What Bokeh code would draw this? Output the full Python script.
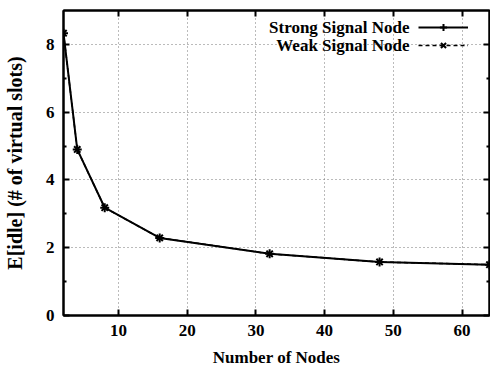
from bokeh.plotting import figure
from bokeh.models import (FixedTicker, LinearAxis, Legend, LegendItem, Label)
from bokeh.core.properties import value
from bokeh.embed import file_html
from bokeh.resources import INLINE

nodes = [2, 4, 8, 16, 32, 48, 64]
strong = [8.33, 4.9, 3.18, 2.29, 1.82, 1.58, 1.5]
weak = [8.33, 4.9, 3.18, 2.29, 1.82, 1.58, 1.5]
x_ticks = [10, 20, 30, 40, 50, 60]
y_ticks = [0, 2, 4, 6, 8]
y_minor = [1, 3, 5, 7]

FONT = "Liberation Serif"

p = figure(width=490, height=370, output_backend="svg", toolbar_location=None,
           x_range=(2, 64), y_range=(0, 9),
           min_border_left=63, min_border_right=1, min_border_top=10, min_border_bottom=55)
p.background_fill_color = "white"
p.border_fill_color = "white"
p.outline_line_color = "black"
p.outline_line_width = 2

# grid
for g in (p.xgrid, p.ygrid):
    g.grid_line_color = "#777777"
    g.grid_line_dash = "1 3"
    g.grid_line_width = 1
p.xgrid.ticker = FixedTicker(ticks=x_ticks)
p.ygrid.ticker = FixedTicker(ticks=y_ticks[1:])

def style_axis(ax):
    ax.axis_line_color = "black"
    ax.axis_line_width = 2
    ax.major_tick_in = 6
    ax.major_tick_out = 0
    ax.minor_tick_in = 3
    ax.minor_tick_out = 0
    ax.major_tick_line_width = 2
    ax.minor_tick_line_width = 2
    ax.major_label_text_font = FONT
    ax.major_label_text_font_style = "bold"
    ax.major_label_text_color = "black"
    ax.major_label_text_font_size = "17px"
    ax.axis_label_text_font = FONT
    ax.axis_label_text_font_style = "bold"
    ax.axis_label_text_font_size = "17px"
    ax.axis_label_text_color = "black"

xa = p.xaxis[0]
xa.ticker = FixedTicker(ticks=x_ticks)
xa.axis_label = "Number of Nodes"
style_axis(xa)
xa.major_label_standoff = 9
xa.axis_label_standoff = 9

ya = p.yaxis[0]
ya.ticker = FixedTicker(ticks=y_ticks, minor_ticks=y_minor)
ya.axis_label = "E[idle] (# of virtual slots)"
style_axis(ya)
ya.axis_label_text_font_size = "20px"
ya.major_label_standoff = 9
ya.axis_label_standoff = 17

ra = LinearAxis(ticker=FixedTicker(ticks=y_ticks, minor_ticks=y_minor))
style_axis(ra)
ra.major_label_overrides = {t: "" for t in y_ticks}
ra.major_label_standoff = 0
p.add_layout(ra, "right")

ta = LinearAxis(ticker=FixedTicker(ticks=x_ticks))
style_axis(ta)
ta.major_label_overrides = {t: "" for t in x_ticks}
ta.major_label_standoff = 0
p.add_layout(ta, "above")

# data
wl = p.line(nodes, weak, line_color="black", line_width=1.5, line_dash="4 3")
ws = p.scatter(nodes, weak, marker="x", size=9, line_color="black", line_width=2)
sl = p.line(nodes, strong, line_color="black", line_width=2)
ss = p.scatter(nodes, strong, marker="cross", size=9, line_color="black", line_width=2)

legend = Legend(items=[LegendItem(label=value(" "), renderers=[sl, ss]),
                       LegendItem(label=value(" "), renderers=[wl, ws])],
                location=(355, 261), orientation="vertical",
                glyph_width=50, glyph_height=18, label_standoff=0, label_width=0,
                padding=0, spacing=0, margin=0,
                background_fill_alpha=0, border_line_alpha=0,
                label_text_font_size="4px")
p.add_layout(legend)

for txt, yy in (("Strong Signal Node", 288), ("Weak Signal Node", 270)):
    p.add_layout(Label(x=346, y=yy, x_units="screen", y_units="screen", text=txt,
                       text_align="right", text_baseline="middle",
                       text_font=FONT, text_font_style="bold", text_font_size="17px",
                       text_color="black"))

open("out.html", "w").write(file_html(p, INLINE))
